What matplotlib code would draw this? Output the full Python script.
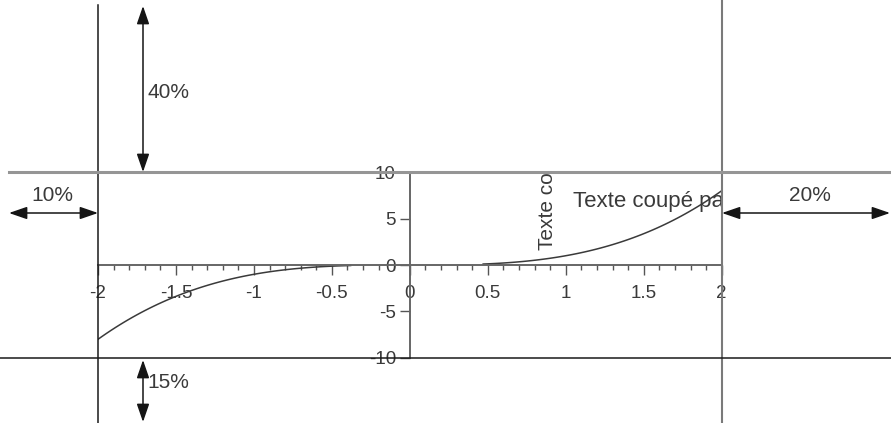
import numpy as np
import matplotlib.pyplot as plt
from matplotlib.lines import Line2D

plt.rcParams['font.family'] = ['Liberation Sans', 'DejaVu Sans']

W, H = 891, 423
# marges de la figure (fractions)
marge_gauche = 0.11
marge_droite = 0.19
marge_haut = 0.407
marge_bas = 0.154

# segments de la courbe y = x^3
x_gauche = np.linspace(-2, -0.38, 60)
x_droite = np.linspace(0.47, 2, 60)
xticks = [-2, -1.5, -1, -0.5, 0, 0.5, 1, 1.5, 2]
xlabels = ['-2', '-1.5', '-1', '-0.5', '0', '0.5', '1', '1.5', '2']
yticks = [-10, -5, 0, 5, 10]
ylabels = ['-10', '-5', '0', '5', '10']

fig = plt.figure(figsize=(W / 100, H / 100), dpi=100)
ax = fig.add_axes([marge_gauche, marge_bas, 1 - marge_gauche - marge_droite, 1 - marge_haut - marge_bas])
ax.set_xlim(-2, 2)
ax.set_ylim(-10, 10)
ax.patch.set_visible(False)

gris = '#3a3a3a'
ax.plot(x_gauche, x_gauche ** 3, color=gris, lw=1.1)
ax.plot(x_droite, x_droite ** 3, color=gris, lw=1.1)

for s in ['top', 'right']:
    ax.spines[s].set_visible(False)
ax.spines['left'].set_position('zero')
ax.spines['bottom'].set_position('zero')
for s in ['left', 'bottom']:
    ax.spines[s].set_color('#666666')
    ax.spines[s].set_linewidth(1.4)

ax.set_xticks(xticks)
ax.set_xticklabels(xlabels)
ax.set_xticks(np.arange(-2, 2.01, 0.1), minor=True)
ax.set_yticks(yticks)
ax.set_yticklabels(ylabels)
ax.tick_params(axis='x', which='major', length=7, width=1, pad=7.5, labelsize=13.5,
               color='#555555', labelcolor=gris)
ax.tick_params(axis='x', which='minor', length=3.5, width=1, color='#555555')
ax.tick_params(axis='y', which='major', length=7, width=1, pad=3, labelsize=13.5,
               color='#555555', labelcolor=gris)

# textes coupés par le cadre
ax.text(1.045, 6.25, 'Texte coupé par', fontsize=16, color=gris,
        va='baseline', clip_on=True)
ax.text(0.885, 1.6, 'Texte coupé', fontsize=15, color=gris, rotation=90,
        ha='center', va='bottom', clip_on=True)

def ypix(y):
    return H - y

# lignes du cadre sur toute la figure
lignes = [
    ([98, 98], [ypix(5), 0], '#1a1a1a', 1.1),
    ([722, 722], [H, 0], '#7a7a7a', 1.5),
    ([9, W], [ypix(172), ypix(172)], '#959595', 2.2),
    ([0, W], [ypix(358), ypix(358)], '#1a1a1a', 1.1),
]
for xs, ys, c, lw in lignes:
    fig.add_artist(Line2D(np.array(xs) / W, np.array(ys) / H, color=c, lw=lw,
                          transform=fig.transFigure))

# flèches des marges
def fleche(x0, y0, x1, y1):
    ax.annotate('', xy=(x1, ypix(y1)), xytext=(x0, ypix(y0)),
                xycoords='figure pixels', textcoords='figure pixels',
                arrowprops=dict(arrowstyle='<|-|>,head_length=0.55,head_width=0.19',
                                color='#151515', lw=1.1,
                                shrinkA=0, shrinkB=0, mutation_scale=20),
                annotation_clip=False)

fleche(143, 6, 143, 172)
fleche(143, 360, 143, 422)
fleche(9, 213, 98, 213)
fleche(722, 213, 890, 213)

def etiquette(x, y, s, ha='left'):
    fig.text(x / W, ypix(y) / H, s, fontsize=15, color=gris, ha=ha, va='center')

etiquette(147, 92, '40%')
etiquette(52, 195, '10%', ha='center')
etiquette(810, 195, '20%', ha='center')
etiquette(147, 382, '15%')

fig.savefig('out.png', dpi=100)
